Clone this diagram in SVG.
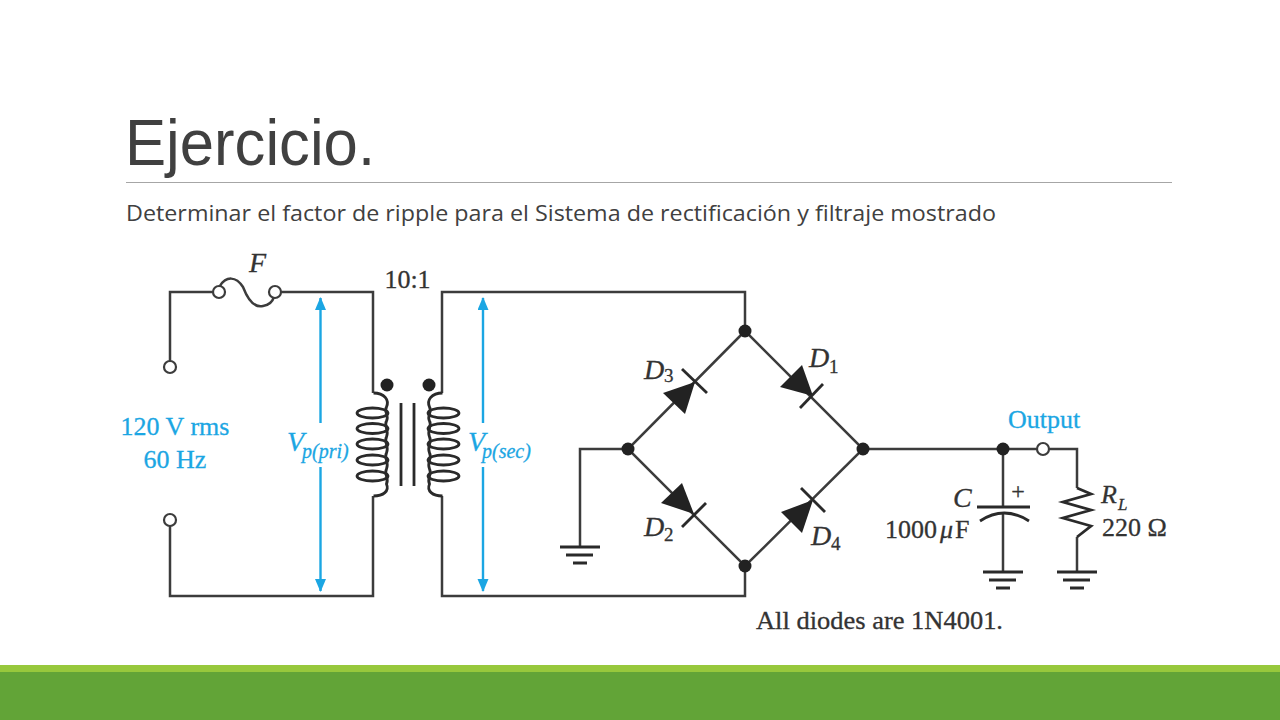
<svg xmlns="http://www.w3.org/2000/svg" width="1280" height="720" viewBox="0 0 1280 720">
<style>
.w{fill:none;stroke:#3c3c3c;stroke-width:2.5}
.c{fill:none;stroke:#2a2a2a;stroke-width:2.8}
.o{fill:#fff;stroke:#3c3c3c;stroke-width:2.2}
.n{fill:#222}
.b{stroke:#1ba6e3;stroke-width:2.4;fill:none}
.t{font-family:"Liberation Serif",serif;fill:#333;stroke:#333;stroke-width:.3}
.i{font-style:italic}
.bl{fill:#1ba6e3;stroke:#1ba6e3}
.g{stroke:#2a2a2a;fill:none;stroke-width:3.2}
</style>
<defs>
<marker id="ah" markerUnits="userSpaceOnUse" markerWidth="13" markerHeight="14" refX="12" refY="5.500" orient="auto-start-reverse"><path d="M0,0L13,5.500L0,11Z" fill="#1ba6e3"/></marker>
<g id="gnd"><path class="g" d="M-20,0H20M-14,8H13M-7,16H7"/></g>
<g id="coil"><ellipse cx="0" cy="0" rx="15.500" ry="5"/><ellipse cx="0" cy="15.500" rx="15.500" ry="5"/><ellipse cx="0" cy="31" rx="15.500" ry="5"/><ellipse cx="0" cy="47" rx="15.500" ry="5"/><ellipse cx="0" cy="63" rx="15.500" ry="5"/>
<path d="M1,-20C12,-20 17,-13 14,-6C11,-1 17,2 14,8C11,13 17,17 14,24C11,29 17,33 14,40C11,45 17,49 14,56C11,61 17,65 14,71C17,78 11,83 1,83"/></g>
</defs>
<rect width="1280" height="720" fill="#fff"/>
<g id="title">
<text x="125" y="165" font-family="Liberation Sans,Arial,sans-serif" font-size="64" fill="#404040" textLength="250" lengthAdjust="spacingAndGlyphs">Ejercicio.</text>
<rect x="126" y="182" width="1046" height="1" fill="#a6a6a6"/>
<text x="126" y="221" font-family="Open Sans,sans-serif" font-size="21" fill="#404040" textLength="870" lengthAdjust="spacingAndGlyphs">Determinar el factor de ripple para el Sistema de rectificación y filtraje mostrado</text>
</g>
<g id="footer"><rect y="665" width="1280" height="7" fill="#97c83c"/><rect y="672" width="1280" height="48" fill="#62a437"/></g>
<g id="connectors">
<path class="w" d="M170,361V292H213M281,292H373V393M373,496V596H170V526"/>
<path class="w" d="M442,393V292H745V331L863,449L745,566L628,449L745,331M745,566V596H442V496"/>
<path class="w" d="M628,449H580V547"/>
<path class="w" d="M863,449H1037M1049,449H1077V488M1077,537V572M1003,449V507M1003,514V572"/>
<path class="b" marker-end="url(#ah)" d="M320.500,423V298"/>
<path class="b" marker-end="url(#ah)" d="M320.500,467V591"/>
<path class="b" marker-end="url(#ah)" d="M483,423V298"/>
<path class="b" marker-end="url(#ah)" d="M483,467V591"/>
</g>
<g id="fuse"><path class="w" d="M220,286C226,276 236,276 243,287C248,300 255,308 263,306C270,305 273,300 274,297"/><circle class="o" cx="219" cy="292" r="6"/><circle class="o" cx="275" cy="292" r="6"/><text class="t i" x="249" y="272" font-size="28">F</text></g>
<g id="source-top"><circle class="o" cx="170" cy="367" r="6"/></g>
<g id="source-bottom"><circle class="o" cx="170" cy="520" r="6"/></g>
<g id="source-label"><text class="t bl" x="175" y="435" font-size="26" text-anchor="middle">120 V rms</text><text class="t bl" x="175" y="468" font-size="26" text-anchor="middle">60 Hz</text></g>
<g id="vpri"><text class="t i bl" x="287" y="451" font-size="28">V</text><text class="t i bl" x="302" y="458" font-size="20">p(pri)</text></g>
<g id="vsec"><text class="t i bl" x="468" y="451" font-size="28">V</text><text class="t i bl" x="482" y="458" font-size="20">p(sec)</text></g>
<g id="transformer">
<text class="t" x="407.500" y="288" font-size="26" text-anchor="middle">10:1</text>
<circle class="n" cx="387" cy="385" r="6.500"/><circle class="n" cx="429" cy="385" r="6.500"/>
<path class="c" d="M401,403V486M414,403V486"/>
<use href="#coil" x="372.500" y="413" class="c"/>
<use href="#coil" transform="translate(443.500 413) scale(-1 1)" class="c"/>
</g>
<g id="D3"><path class="n" d="M695,382L663,393L685,414Z"/><path class="c" d="M682,369L707,393"/><text class="t i" x="644" y="379" font-size="28">D</text><text class="t" x="664" y="382" font-size="19">3</text></g>
<g id="D1"><path class="n" d="M813,396L780,387L802,365Z"/><path class="c" d="M823,384L800,408"/><text class="t i" x="809" y="367" font-size="28">D</text><text class="t" x="829" y="373" font-size="19">1</text></g>
<g id="D2"><path class="n" d="M694,514L661,503L682,483Z"/><path class="c" d="M706,503L682,527"/><text class="t i" x="644" y="536" font-size="28">D</text><text class="t" x="664" y="541" font-size="19">2</text></g>
<g id="D4"><path class="n" d="M813,500L781,512L802,533Z"/><path class="c" d="M801,488L825,512"/><text class="t i" x="811" y="545" font-size="28">D</text><text class="t" x="831" y="550" font-size="19">4</text></g>
<g id="nodes"><circle class="n" cx="745" cy="331" r="6.500"/><circle class="n" cx="628" cy="449" r="6.500"/><circle class="n" cx="863" cy="449" r="6.500"/><circle class="n" cx="745" cy="566" r="6.500"/><circle class="n" cx="1003" cy="449" r="6.500"/></g>
<g id="ground-left"><use href="#gnd" x="580" y="547"/></g>
<g id="output"><circle class="o" cx="1043" cy="449" r="6"/><text class="t bl" x="1044" y="428" font-size="26" text-anchor="middle">Output</text></g>
<g id="capacitor"><path class="c" d="M977,507H1030M980,521Q1004,505 1029,521"/><text class="t" x="1018" y="499" font-size="24" text-anchor="middle">+</text><text class="t i" x="953" y="507" font-size="28">C</text><text class="t" x="885" y="538" font-size="26">1000</text><text class="t i" x="940" y="538" font-size="26">μ</text><text class="t" x="955" y="538" font-size="26">F</text><use href="#gnd" x="1003" y="572"/></g>
<g id="resistor"><path class="c" d="M1077,488L1091,494L1063,502L1091,510L1063,518L1091,526L1077,537"/><text class="t i" x="1101" y="503" font-size="26">R</text><text class="t i" x="1118" y="510" font-size="17">L</text><text class="t" x="1102" y="536" font-size="26">220 Ω</text><use href="#gnd" x="1077" y="572"/></g>
<g id="note"><text class="t" x="756" y="629" font-size="25" textLength="247" lengthAdjust="spacingAndGlyphs">All diodes are 1N4001.</text></g>
</svg>
